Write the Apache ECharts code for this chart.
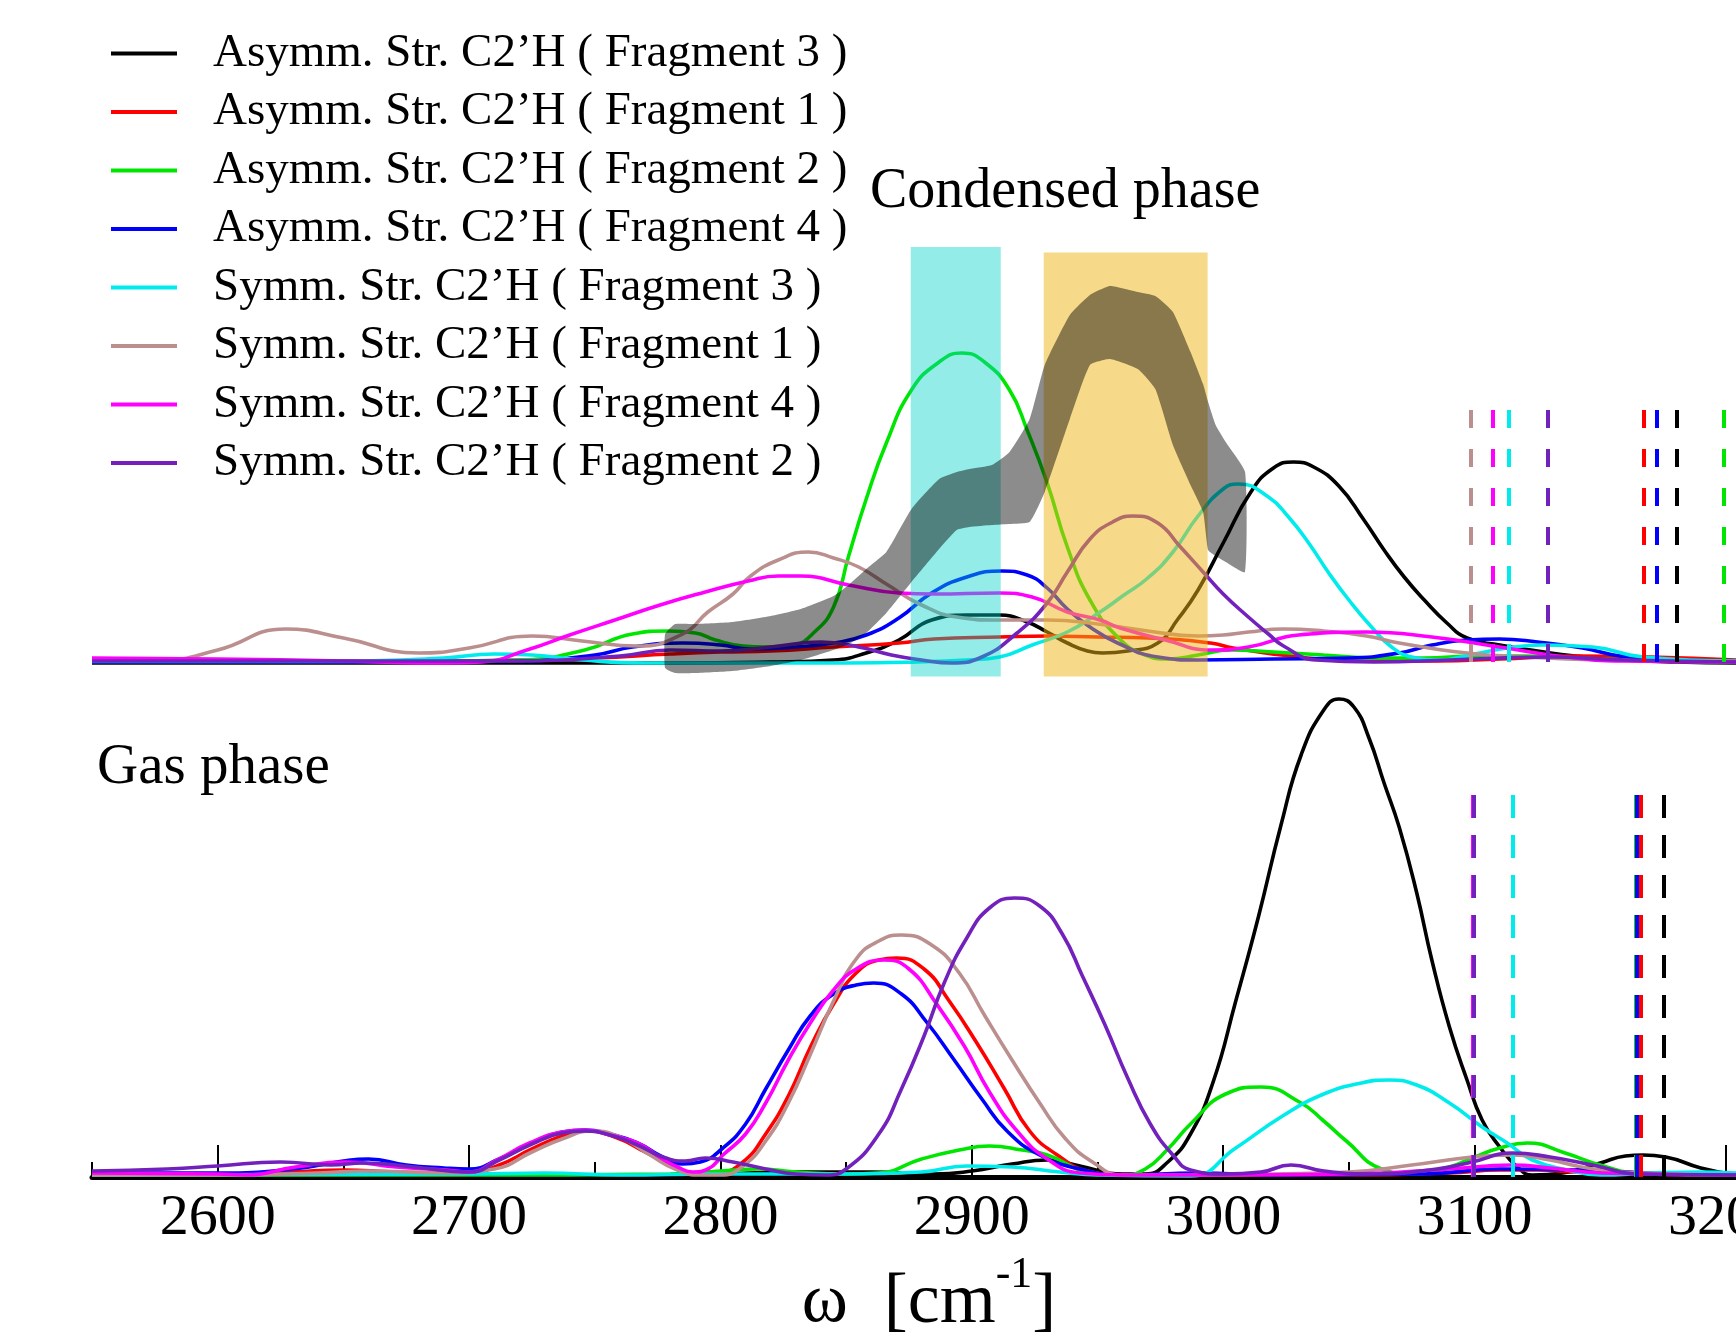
<!DOCTYPE html>
<html>
<head>
<meta charset="utf-8">
<title>C2'H stretching spectra</title>
<script src="https://cdn.jsdelivr.net/npm/echarts@6/dist/echarts.min.js"></script>
<style>
  html, body { margin: 0; padding: 0; background: #fff; }
  #main { width: 1736px; height: 1337px; }
</style>
</head>
<body>
<div id="main"></div>
<script>
const FONT = '"Liberation Serif", "Times New Roman", serif';

// x axis (wavenumber, cm-1)
const xMin = 2550;
const xMax = 3204;
const majorTicks = [2600, 2700, 2800, 2900, 3000, 3100, 3200];
const minorTicks = [2550, 2650, 2750, 2850, 2950, 3050, 3150];

const seriesNames = [
  'Asymm. Str. C2’H ( Fragment 3 )',
  'Asymm. Str. C2’H ( Fragment 1 )',
  'Asymm. Str. C2’H ( Fragment 2 )',
  'Asymm. Str. C2’H ( Fragment 4 )',
  'Symm. Str. C2’H ( Fragment 3 )',
  'Symm. Str. C2’H ( Fragment 1 )',
  'Symm. Str. C2’H ( Fragment 4 )',
  'Symm. Str. C2’H ( Fragment 2 )'
];
const seriesColors = ['#000000', '#ff0000', '#00e600', '#0000ff', '#00ecec', '#bc8f8f', '#ff00ff', '#7221bc'];

// ---- condensed phase (upper panel), [omega, intensity]
const condBlack = [[2550,1],[2600,1],[2700,1],[2780,1],[2820,2],[2845,4],[2858,11],[2871,24],[2884,44],[2898,49],[2911,49],[2922,42],[2930,32],[2938,21],[2946,13],[2952,11],[2962,13],[2974,21],[2982,45],[2990,74],[3000,121],[3011,172],[3020,196],[3028,202],[3036,197],[3046,178],[3056,144],[3064,114],[3072,87],[3080,64],[3089,41],[3097,26],[3110,19],[3125,13],[3140,8],[3160,4],[3180,2],[3204,1]];
const condRed = [[2550,3],[2620,2],[2700,3],[2750,6],[2780,10],[2800,12],[2820,13],[2845,17],[2871,21],[2885,25],[2911,27],[2930,28],[2950,27],[2970,26],[2995,21],[3004,16],[3030,7],[3057,3],[3085,3],[3110,5],[3140,8],[3170,7],[3204,4]];
const condGreen = [[2550,2],[2650,2],[2720,4],[2746,14],[2765,30],[2779,33],[2790,31],[2798,24],[2809,18],[2818,17],[2829,19],[2837,31],[2845,57],[2851,108],[2858,165],[2866,221],[2876,274],[2887,302],[2896,311],[2905,302],[2915,274],[2922,234],[2930,181],[2938,117],[2947,64],[2958,27],[2969,9],[2978,5],[2990,9],[3003,14],[3020,12],[3040,9],[3060,6],[3080,6],[3100,8],[3120,8],[3140,6],[3160,4],[3204,2]];
const condBlue = [[2550,2],[2650,2],[2720,3],[2750,9],[2765,17],[2785,21],[2800,19],[2812,15],[2830,17],[2845,21],[2858,29],[2871,46],[2884,71],[2898,87],[2912,93],[2922,89],[2930,76],[2938,55],[2947,37],[2958,21],[2974,7],[2990,4],[3020,5],[3050,6],[3070,11],[3083,19],[3097,24],[3110,25],[3125,22],[3143,16],[3158,8],[3180,4],[3204,3]];
const condCyan = [[2550,3],[2650,3],[2690,6],[2710,10],[2725,9],[2745,4],[2770,1],[2800,1],[2850,1],[2878,2],[2898,4],[2911,7],[2924,19],[2938,32],[2951,52],[2960,68],[2970,86],[2980,112],[2990,148],[3000,175],[3006,180],[3018,167],[3026,147],[3034,121],[3042,91],[3050,64],[3059,37],[3067,17],[3075,7],[3086,4],[3100,10],[3113,16],[3127,19],[3147,17],[3167,7],[3204,3]];
const condTan = [[2550,4],[2577,4],[2600,14],[2627,35],[2650,26],[2680,11],[2700,16],[2725,28],[2745,23],[2767,18],[2785,30],[2795,52],[2805,70],[2812,88],[2823,104],[2835,112],[2845,106],[2855,97],[2866,80],[2880,59],[2894,47],[2910,44],[2930,44],[2950,40],[2970,33],[2990,28],[3000,29],[3010,32],[3024,35],[3040,33],[3057,28],[3070,21],[3097,11],[3120,7],[3150,4],[3204,2]];
const condMagenta = [[2550,6],[2600,5],[2650,3],[2690,1],[2705,2],[2723,14],[2740,29],[2758,44],[2776,59],[2794,72],[2811,83],[2823,88],[2832,88],[2851,79],[2871,71],[2885,70],[2911,71],[2924,67],[2938,52],[2951,44],[2959,36],[2977,24],[2995,14],[3010,17],[3030,29],[3057,32],[3083,27],[3110,17],[3136,7],[3160,3],[3204,2]];
const condPurple = [[2550,3],[2650,3],[2720,3],[2760,8],[2780,14],[2800,13],[2820,17],[2840,22],[2855,17],[2868,9],[2880,4],[2892,1],[2904,7],[2918,31],[2930,61],[2938,92],[2947,125],[2956,142],[2964,148],[2974,141],[2983,117],[2992,92],[3000,70],[3010,47],[3018,30],[3024,18],[3037,4],[3060,2],[3090,4],[3110,6],[3130,7],[3160,4],[3204,2]];

// ---- gas phase (lower panel)
const gasBlack = [[2550,1],[2700,1],[2760,2],[2800,3],[2830,5],[2860,5],[2885,3],[2900,6],[2916,13],[2930,17],[2943,11],[2960,3],[2969,3],[2978,15],[2987,43],[2996,95],[3005,176],[3014,260],[3023,352],[3031,422],[3040,467],[3046,478],[3052,470],[3058,439],[3064,394],[3070,350],[3077,284],[3083,217],[3090,150],[3097,97],[3103,57],[3110,30],[3117,10],[3123,2],[3135,4],[3150,14],[3160,21],[3167,22],[3176,20],[3190,9],[3204,2]];
const gasRed = [[2550,2],[2600,2],[2630,5],[2650,7],[2670,5],[2700,4],[2712,12],[2725,28],[2737,41],[2746,46],[2758,40],[2770,25],[2780,12],[2790,4],[2800,5],[2809,15],[2818,43],[2827,81],[2836,131],[2845,173],[2854,204],[2863,217],[2870,219],[2881,208],[2891,176],[2902,134],[2913,88],[2923,46],[2934,22],[2946,6],[2960,2],[3000,2],[3050,2],[3090,4],[3110,7],[3125,7],[3140,5],[3165,3],[3204,2]];
const gasGreen = [[2550,2],[2700,2],[2780,3],[2800,6],[2815,8],[2830,5],[2850,3],[2863,4],[2880,18],[2895,27],[2907,31],[2920,27],[2930,22],[2948,4],[2960,2],[2969,8],[2978,28],[2987,53],[3001,83],[3015,90],[3031,74],[3040,56],[3049,36],[3063,8],[3075,3],[3090,10],[3100,20],[3110,29],[3121,34],[3136,24],[3150,12],[3165,4],[3204,2]];
const gasBlue = [[2550,4],[2600,4],[2630,8],[2650,16],[2660,18],[2675,12],[2690,9],[2700,8],[2712,18],[2725,34],[2737,45],[2746,47],[2756,43],[2767,34],[2777,20],[2785,13],[2792,15],[2801,29],[2810,53],[2818,88],[2827,127],[2836,162],[2845,183],[2854,192],[2861,194],[2872,183],[2882,155],[2893,117],[2904,78],[2914,46],[2927,22],[2943,8],[2960,2],[2990,4],[3020,2],[3080,3],[3110,8],[3140,7],[3170,4],[3204,2]];
const gasCyan = [[2550,2],[2700,3],[2730,4],[2760,2],[2800,3],[2850,3],[2880,5],[2898,11],[2916,10],[2935,5],[2950,2],[2987,1],[3005,29],[3023,60],[3040,83],[3055,94],[3066,97],[3077,92],[3090,74],[3103,50],[3113,34],[3123,17],[3137,7],[3150,2],[3170,4],[3190,5],[3204,4]];
const gasTan = [[2550,2],[2600,2],[2640,4],[2660,6],[2690,4],[2710,8],[2725,25],[2737,38],[2749,46],[2760,40],[2772,22],[2782,8],[2792,2],[2800,2],[2809,11],[2818,36],[2827,74],[2836,124],[2845,176],[2854,218],[2863,236],[2872,242],[2884,232],[2895,204],[2905,162],[2916,117],[2927,74],[2937,39],[2948,15],[2960,2],[2990,2],[3020,3],[3050,5],[3075,12],[3099,20],[3115,22],[3130,17],[3145,9],[3165,4],[3204,2]];
const gasMagenta = [[2550,4],[2600,3],[2611,2],[2631,10],[2651,15],[2671,10],[2691,7],[2700,5],[2711,17],[2724,34],[2737,45],[2746,47],[2756,42],[2767,34],[2777,18],[2783,10],[2789,5],[2795,8],[2801,22],[2810,43],[2818,74],[2827,117],[2836,155],[2845,187],[2854,208],[2865,217],[2875,208],[2886,173],[2897,131],[2907,85],[2918,46],[2930,18],[2943,4],[2960,2],[3000,2],[3050,3],[3090,8],[3105,11],[3115,12],[3130,9],[3150,4],[3204,2]];
const gasPurple = [[2550,6],[2580,8],[2600,11],[2625,15],[2645,12],[2658,14],[2678,10],[2700,5],[2712,17],[2725,33],[2737,44],[2746,46],[2756,42],[2767,32],[2777,20],[2786,16],[2794,19],[2805,15],[2818,8],[2830,3],[2842,2],[2850,8],[2863,43],[2872,88],[2881,141],[2889,194],[2898,239],[2907,269],[2917,279],[2927,271],[2936,243],[2944,201],[2953,152],[2962,99],[2971,53],[2980,22],[2987,7],[3000,3],[3015,5],[3027,12],[3040,6],[3060,3],[3085,8],[3099,15],[3115,24],[3130,20],[3147,12],[3165,3],[3204,2]];

// frequency sticks (dashed), same order as seriesNames
const condSticks = [3180.3, 3167.4, 3199.0, 3172.3, 3113.4, 3098.4, 3107.3, 3129.3];
const gasSticks = [3175.2, 3166.3, 3164.2, 3164.4, 3115.2, 3099.2, 3099.4, 3099.6];
const condStickTop = 254;
const gasStickTop = 382;

// experimental band (upper panel)
const bandTop = [[2778,30],[2782,40],[2790,40],[2805,42],[2820,48],[2832,55],[2845,68],[2851,79],[2858,95],[2866,112],[2876,155],[2887,185],[2894,192],[2899,195],[2908,199],[2915,212],[2923,245],[2929,299],[2939,349],[2947,369],[2955,378],[2966,372],[2973,368],[2980,352],[2987,312],[2992,280],[2994,262],[2997,239],[3001,222],[3008.7,192]];
const bandBottom = [[2778,-4],[2782,-9],[2790,-9],[2805,-7],[2820,-2],[2832,4],[2845,14],[2851,20],[2858,31],[2866,51],[2876,82],[2887,115],[2894,134],[2899,137],[2908,139],[2915,140],[2923,142],[2929,172],[2939,245],[2947,299],[2955,305],[2966,295],[2973,275],[2980,219],[2987,179],[2992,152],[2994,114],[2997,108],[3001,102],[3008.7,92]];

// highlighted regions [x0, x1, y0, y1]
const highlightBoxes = [[2875.7, 2911.5, -12.5, 417], [2928.6, 2993.8, -12.5, 411.5]];
const highlightColors = ['rgba(0,210,200,0.42)', 'rgba(240,182,20,0.5)'];

const condCurves = [condBlack, condRed, condGreen, condBlue, condCyan, condTan, condMagenta, condPurple];
const gasCurves = [gasBlack, gasRed, gasGreen, gasBlue, gasCyan, gasTan, gasMagenta, gasPurple];

function curveSeries(i, data, axis, stickX, stickTop, dash) {
  return {
    name: seriesNames[i],
    type: 'line',
    xAxisIndex: axis,
    yAxisIndex: axis,
    data: data,
    smooth: 0.5,
    showSymbol: false,
    z: 2,
    lineStyle: { color: seriesColors[i], width: 3.6 },
    itemStyle: { color: seriesColors[i] },
    emphasis: { disabled: true },
    markLine: {
      silent: true,
      animation: false,
      symbol: ['none', 'none'],
      label: { show: false },
      emphasis: { disabled: true },
      lineStyle: { color: seriesColors[i], width: 4, type: dash },
      data: [[{ coord: [stickX, stickTop] }, { coord: [stickX, 0] }]]
    }
  };
}

const series = [];
condCurves.forEach(function (d, i) {
  series.push(curveSeries(i, d, 0, condSticks[i], condStickTop, [18, 21]));
});
gasCurves.forEach(function (d, i) {
  series.push(curveSeries(i, d, 1, gasSticks[i], gasStickTop, [23, 17]));
});

// coloured boxes, drawn above the curves
series.push({
  type: 'custom',
  xAxisIndex: 0,
  yAxisIndex: 0,
  z: 3,
  silent: true,
  data: highlightBoxes,
  encode: { x: [0, 1], y: [2, 3] },
  renderItem: function (params, api) {
    const a = api.coord([api.value(0), api.value(3)]);
    const b = api.coord([api.value(1), api.value(2)]);
    return {
      type: 'rect',
      shape: { x: a[0], y: a[1], width: b[0] - a[0], height: b[1] - a[1] },
      style: { fill: highlightColors[params.dataIndex] }
    };
  }
});

// grey experimental band
series.push({
  type: 'custom',
  xAxisIndex: 0,
  yAxisIndex: 0,
  z: 4,
  silent: true,
  data: bandTop,
  renderItem: function (params, api) {
    if (params.dataIndex !== 0) return null;
    const pts = [];
    bandTop.forEach(function (p) { pts.push(api.coord(p)); });
    bandBottom.slice().reverse().forEach(function (p) { pts.push(api.coord(p)); });
    return {
      type: 'polygon',
      shape: { points: pts, smooth: 0.15 },
      style: { fill: 'rgba(0,0,0,0.45)' }
    };
  }
});

const chart = echarts.init(document.getElementById('main'), null, { renderer: 'canvas' });

var option = {
  animation: false,
  backgroundColor: '#ffffff',
  title: [
    {
      text: 'Condensed phase', left: 870, top: 164, padding: 0,
      textStyle: { fontFamily: FONT, fontSize: 56, fontWeight: 'normal', color: '#000' }
    },
    {
      text: 'Gas phase', left: 97, top: 740, padding: 0,
      textStyle: { fontFamily: FONT, fontSize: 57, fontWeight: 'normal', color: '#000' }
    }
  ],
  legend: {
    data: seriesNames,
    orient: 'vertical',
    left: 111,
    top: 30,
    padding: 0,
    icon: 'rect',
    itemWidth: 66,
    itemHeight: 4,
    itemGap: 11.5,
    selectedMode: false,
    textStyle: { fontFamily: FONT, fontSize: 47, color: '#000', lineHeight: 47, padding: [0, 0, 0, 31] }
  },
  grid: [
    { left: 92, right: 0, top: 224, height: 460, containLabel: false, outerBoundsMode: 'none' },
    { left: 92, right: 0, top: 677, height: 500, containLabel: false, outerBoundsMode: 'none' }
  ],
  xAxis: [
    { gridIndex: 0, type: 'value', min: xMin, max: xMax, show: false },
    {
      gridIndex: 1, type: 'value', min: xMin, max: xMax, position: 'bottom',
      axisLine: { lineStyle: { color: '#000', width: 5 } },
      axisTick: { inside: true, length: 32, customValues: majorTicks, lineStyle: { color: '#000', width: 2 } },
      axisLabel: {
        customValues: majorTicks, color: '#000', fontFamily: FONT, fontSize: 58, margin: 13,
        formatter: function (v) { return String(v); }
      },
      splitLine: { show: false },
      name: '{w|ω}  {b|[cm}{s|-1}{b|]}',
      nameLocation: 'middle',
      nameGap: 76,
      nameTextStyle: {
        fontFamily: FONT, fontSize: 72, color: '#000', padding: [0, 0, 0, 30],
        rich: {
          w: { fontFamily: FONT, fontSize: 70, lineHeight: 100, color: '#000' },
          b: { fontFamily: FONT, fontSize: 72, lineHeight: 100, color: '#000' },
          s: { fontFamily: FONT, fontSize: 44, lineHeight: 40, verticalAlign: 'top', color: '#000' }
        }
      }
    },
    {
      gridIndex: 1, type: 'value', min: xMin, max: xMax, position: 'bottom', offset: 0,
      axisLine: { show: false },
      axisTick: { inside: true, length: 15, customValues: minorTicks, lineStyle: { color: '#000', width: 2 } },
      axisLabel: { show: false },
      splitLine: { show: false }
    }
  ],
  yAxis: [
    { gridIndex: 0, type: 'value', min: -20, max: 440, show: false },
    { gridIndex: 1, type: 'value', min: 0, max: 500, show: false }
  ],
  series: series
};

chart.setOption(option);
</script>
</body>
</html>
